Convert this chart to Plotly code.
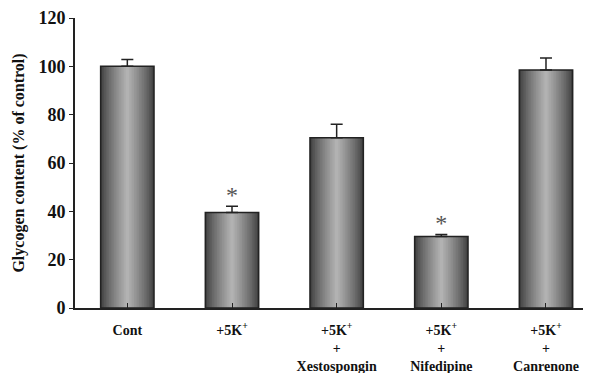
import plotly.graph_objects as go

categories = ["Cont", "+5K<sup>+</sup>", "+5K<sup>+</sup><br>+<br>Xestospongin",
              "+5K<sup>+</sup><br>+<br>Nifedipine", "+5K<sup>+</sup><br>+<br>Canrenone"]
values = [100, 39.5, 70.5, 29.6, 98.5]
errors = [2.8, 2.6, 5.5, 0.8, 5.0]
sig_positions = [1, 3]
sig_labels = ["*", "*"]

x = list(range(len(categories)))
fig = go.Figure()

# gradient simulation: overlapping bars, dark outer to light center
n = 16
dark, light = 0x40, 0xb2
base_w = 0.51
for i in range(n):
    t = i / (n - 1)
    v = int(dark + (light - dark) * (t ** 0.8))
    c = "#%02x%02x%02x" % (v, v, v)
    w = base_w * (1 - i / n)
    fig.add_trace(go.Bar(
        x=x, y=values, width=w, marker=dict(color=c, line=dict(width=0)),
        showlegend=False, hoverinfo="skip",
    ))
# outline + error bars
fig.add_trace(go.Bar(
    x=x, y=values, width=base_w,
    marker=dict(color="rgba(0,0,0,0)", line=dict(color="#222222", width=1.5)),
    error_y=dict(type="data", array=errors, arrayminus=[0]*len(errors), visible=True,
                 color="#222222", thickness=1.5, width=6),
    showlegend=False,
))
sig_y = [values[i] + errors[i] + 4 for i in sig_positions]
fig.add_trace(go.Scatter(
    x=sig_positions, y=sig_y, mode="text", text=sig_labels,
    textfont=dict(family="Liberation Serif", size=24, color="#555555"),
    showlegend=False,
))

# page body has an 8px default margin; figure sized to fill the rest
fig.update_layout(
    width=583, height=365, barmode="overlay",
    plot_bgcolor="white", paper_bgcolor="white",
    margin=dict(l=67, r=0, t=10, b=65, autoexpand=False),
    font=dict(family="Liberation Serif", color="#111111"),
    xaxis=dict(
        tickmode="array", tickvals=x, ticktext=categories, automargin=False,
        range=[-0.5, 4.43], showline=True, linecolor="#222222", linewidth=2,
        ticks="inside", tickson="boundaries", ticklen=5, tickcolor="#222222",
        tickfont=dict(size=14, family="Liberation Serif", weight="bold"),
        ticklabelstandoff=8,
        showgrid=False, zeroline=False,
    ),
    yaxis=dict(
        range=[0, 120], tickvals=[0, 20, 40, 60, 80, 100, 120], automargin=False,
        showline=True, linecolor="#222222", linewidth=2,
        ticks="outside", ticklen=4, tickcolor="#222222",
        tickfont=dict(size=18, family="Liberation Serif", weight="bold"),
        showgrid=False, zeroline=False,
        title=dict(text="Glycogen content (% of control)",
                   font=dict(size=16, family="Liberation Serif", weight="bold"), standoff=10),
    ),
)

fig.write_html("out.html")
